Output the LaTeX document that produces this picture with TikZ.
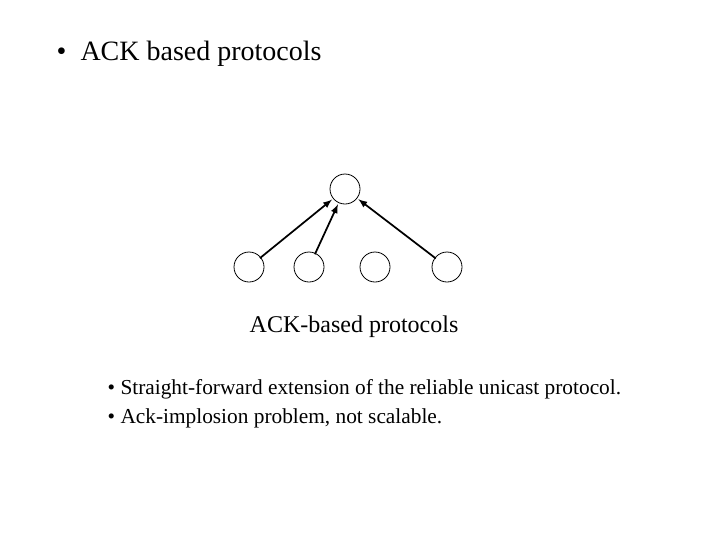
\documentclass[tikz,border=0pt]{standalone}
\usepackage{fontspec}
\setmainfont{Liberation Serif}
\begin{document}
\begin{tikzpicture}[x=0.75pt,y=-0.75pt,
  nd/.style={circle,draw,line width=0.6pt,minimum size=22.5pt,inner sep=0pt},
  ar/.style={-latex,line width=1.3pt,shorten >=1pt,shorten <=-1pt}]
\useasboundingbox (0,0) rectangle (720,540);
\node[anchor=base west,font=\fontsize{21}{25}\selectfont] (title) at (52,60) {•\ \ ACK based protocols};
\node[nd] (t) at (345,189) {};
\node[nd] (b1) at (249,267) {};
\node[nd] (b2) at (309,267) {};
\node[nd] (b3) at (375,267) {};
\node[nd] (b4) at (447,267) {};
\draw[ar] (b1) -- (t);
\draw[ar] (b2) -- (t);
\draw[ar] (b4) -- (t);
\node[anchor=base west,font=\fontsize{18}{22}\selectfont] (cap) at (245,332) {ACK-based protocols};
\node[anchor=base west,align=left,font=\fontsize{16}{22}\selectfont] (l1) at (103,394) {• Straight-forward extension of the reliable unicast protocol.};
\node[anchor=base west,align=left,font=\fontsize{16}{22}\selectfont] (l2) at (103,423) {• Ack-implosion problem, not scalable.};
\end{tikzpicture}
\end{document}
